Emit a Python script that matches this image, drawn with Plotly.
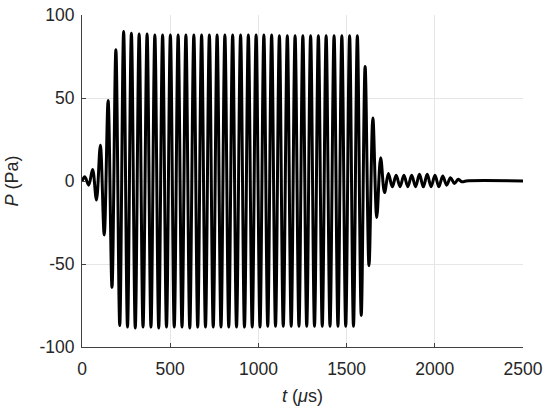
import plotly.graph_objects as go

# Pressure signal, read peak by peak from the figure (time in microseconds, pressure in Pa)
t_start = [0, 16, 38, 60, 82, 104, 126, 148, 170, 192, 214]
p_start = [0, 2.5, -2.5, 7, -11.5, 21.5, -32.5, 48.5, -64, 79, -87]

t_burst = [236, 258, 280, 302, 324, 346, 369, 391, 413, 435,
           457, 479, 501, 523, 545, 567, 589, 611, 634, 656,
           678, 700, 722, 744, 766, 788, 810, 832, 854, 876,
           899, 921, 943, 965, 987, 1009, 1031, 1053, 1075, 1097,
           1119, 1141, 1164, 1186, 1208, 1230, 1252, 1274, 1296, 1318,
           1340, 1362, 1384, 1406, 1429, 1451, 1473, 1495, 1517, 1539,
           1561]
p_burst = [90, -88, 89, -88.5, 88.5, -88, 88.5, -88, 88, -88.5,
           88, -88, 88, -88, 88, -88, 88, -88.5, 88, -88,
           88, -88, 88, -88, 88, -88, 88, -88, 88, -88,
           88, -88, 88, -88, 88, -88, 88, -87.5, 88, -87.5,
           87.5, -87.5, 87.5, -87.5, 87.5, -87.5, 87.5, -87.5, 87.5, -87.5,
           87.5, -87.5, 87.5, -87.5, 87.5, -87.5, 87.5, -87.5, 87.5, -87.5,
           87.5]

t_tail = [1583, 1605, 1627, 1649, 1671, 1693, 1715, 1737, 1759, 1781,
          1803, 1825, 1847, 1869, 1891, 1913, 1935, 1957, 1979, 2001,
          2023, 2045, 2067, 2089, 2111, 2133, 2155, 2177, 2500]
p_tail = [-81, 69, -51, 38, -22, 14, -7, 4.5, -3.5, 3.5,
          -3.5, 3.5, -3.5, 3.5, -3.5, 4, -3.5, 4, -3.5, 3.5,
          -3.5, 3, -2.5, 2, -1.5, 1, -0.5, 0, 0]

t_us = t_start + t_burst + t_tail
p_pa = p_start + p_burst + p_tail

x_ticks = [0, 500, 1000, 1500, 2000, 2500]
y_ticks = [-100, -50, 0, 50, 100]
y_labels = ["-100", "-50", "0", "50", "100"]

axis_color = "#404040"
text_color = "#262626"
grid_color = "#e6e6e6"

fig = go.Figure()
fig.add_trace(go.Scatter(
    x=t_us, y=p_pa, mode="lines",
    line=dict(color="black", width=3, shape="spline", smoothing=1),
    showlegend=False,
))

fig.update_layout(
    width=550, height=416,
    margin=dict(l=82, r=27, t=15, b=69),
    plot_bgcolor="white", paper_bgcolor="white",
    font=dict(family="Arial, Liberation Sans, sans-serif", size=17.5, color=text_color),
)

fig.update_xaxes(
    range=[0, 2500], tickvals=x_ticks, automargin=False,
    title=dict(text="<i>t</i> (<i>μ</i>s)", font=dict(size=18), standoff=11),
    showgrid=True, gridcolor=grid_color, gridwidth=1,
    zeroline=False,
    showline=True, linecolor=axis_color, linewidth=1,
    ticks="inside", ticklen=4, tickcolor=axis_color,
    ticklabelstandoff=6, ticklabeloverflow="allow",
)

fig.update_yaxes(
    range=[-100, 100], tickvals=y_ticks, ticktext=y_labels, automargin=False,
    title=dict(text="<i>P</i> (Pa)", font=dict(size=18), standoff=16),
    showgrid=True, gridcolor=grid_color, gridwidth=1,
    zeroline=False,
    showline=True, linecolor=axis_color, linewidth=1,
    ticks="inside", ticklen=4, tickcolor=axis_color,
    ticklabelstandoff=3, ticklabeloverflow="allow",
)

# sans la marge par défaut du body, la figure remplit exactement la fenêtre
fig.write_html("out.html", config={"displayModeBar": False},
               post_script="document.body.style.margin = '0';")
